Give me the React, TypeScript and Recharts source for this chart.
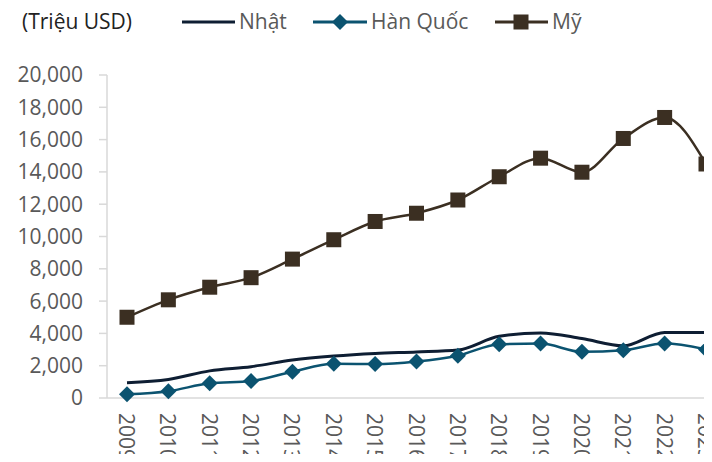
import { LineChart, Line, XAxis, YAxis } from 'recharts'

const years = ['2009', '2010', '2011', '2012', '2013', '2014', '2015', '2016', '2017', '2018', '2019', '2020', '2021', '2022', '2023']
const nhat = [950, 1150, 1680, 1940, 2350, 2600, 2760, 2850, 2970, 3820, 4030, 3680, 3230, 4060, 4060]
const hanQuoc = [230, 420, 910, 1050, 1630, 2120, 2100, 2260, 2620, 3330, 3370, 2860, 2960, 3370, 3010]
const my = [5000, 6080, 6860, 7450, 8600, 9800, 10930, 11440, 12260, 13700, 14850, 13980, 16070, 17370, 14490]
const yTicks = [0, 2000, 4000, 6000, 8000, 10000, 12000, 14000, 16000, 18000, 20000]

const C_NHAT = '#0e1e33'
const C_HQ = '#0b5370'
const C_MY = '#3b2f22'
const GRAY_TXT = '#595959'
const AXIS = '#d9d9d9'

const data = years.map((y, i) => ({ year: y, nhat: nhat[i], hanQuoc: hanQuoc[i], my: my[i] }))

const YearTick = ({ x, y, payload }: any) => (
  <text
    x={x}
    y={y}
    transform={`rotate(90, ${x}, ${y})`}
    textAnchor="start"
    dominantBaseline="central"
    fill={GRAY_TXT}
    fontSize={21}
  >
    {payload.value}
  </text>
)

const Diamond = ({ cx, cy }: any) => {
  if (cx == null || cy == null) return null
  const r = 8
  return <path d={`M${cx} ${cy - r}L${cx + r} ${cy}L${cx} ${cy + r}L${cx - r} ${cy}Z`} fill={C_HQ} />
}

const Square = ({ cx, cy }: any) => {
  if (cx == null || cy == null) return null
  return <rect x={cx - 7.5} y={cy - 7.5} width={15} height={15} fill={C_MY} />
}

// legend is drawn by hand, Recharts' Legend would push the plot area down
function LegendRow() {
  const txt = { position: 'absolute' as const, top: 6, fontSize: 21, color: GRAY_TXT, lineHeight: '30px' }
  return (
    <div style={{ position: 'absolute', left: 0, top: 0, width: 712, height: 45 }}>
      <span style={{ ...txt, left: 22, color: '#222' }}>(Triệu USD)</span>
      <svg style={{ position: 'absolute', left: 0, top: 0 }} width={712} height={45}>
        <line x1={182} x2={235} y1={22} y2={22} stroke={C_NHAT} strokeWidth={3} />
        <line x1={313} x2={367} y1={22} y2={22} stroke={C_HQ} strokeWidth={3} />
        <Diamond cx={340} cy={22} />
        <line x1={495} x2={548} y1={22} y2={22} stroke={C_MY} strokeWidth={3} />
        <Square cx={521} cy={22} />
      </svg>
      <span style={{ ...txt, left: 239 }}>Nhật</span>
      <span style={{ ...txt, left: 371 }}>Hàn Quốc</span>
      <span style={{ ...txt, left: 552 }}>Mỹ</span>
    </div>
  )
}

export default function App() {
  return (
    <div
      style={{
        margin: -8,
        width: 712,
        height: 462,
        overflow: 'hidden',
        position: 'relative',
        background: '#fff',
        fontFamily: '"Open Sans", sans-serif',
      }}
    >
      <LegendRow />
      <LineChart width={726} height={462} data={data} margin={{ top: 75, right: 0, bottom: 0, left: 0 }}>
        <XAxis
          dataKey="year"
          height={64}
          padding={{ left: 20, right: 20 }}
          axisLine={{ stroke: AXIS, strokeWidth: 1.5 }}
          tickLine={false}
          tickMargin={9}
          tick={<YearTick />}
          interval={0}
        />
        <YAxis
          width={107}
          domain={[0, 20000]}
          ticks={yTicks}
          interval={0}
          tick={{ fill: GRAY_TXT, fontSize: 21 }}
          tickFormatter={(v: number) => v.toLocaleString('en-US')}
          axisLine={{ stroke: AXIS, strokeWidth: 1.5 }}
          tickLine={{ stroke: AXIS, strokeWidth: 1.5 }}
          tickSize={8}
          tickMargin={16}
        />
        <Line
          type="monotone"
          dataKey="nhat"
          stroke={C_NHAT}
          strokeWidth={3}
          dot={false}
          isAnimationActive={false}
        />
        <Line
          type="monotone"
          dataKey="hanQuoc"
          stroke={C_HQ}
          strokeWidth={2.5}
          dot={<Diamond />}
          activeDot={false}
          isAnimationActive={false}
        />
        <Line
          type="monotone"
          dataKey="my"
          stroke={C_MY}
          strokeWidth={2.5}
          dot={<Square />}
          activeDot={false}
          isAnimationActive={false}
        />
      </LineChart>
    </div>
  )
}
